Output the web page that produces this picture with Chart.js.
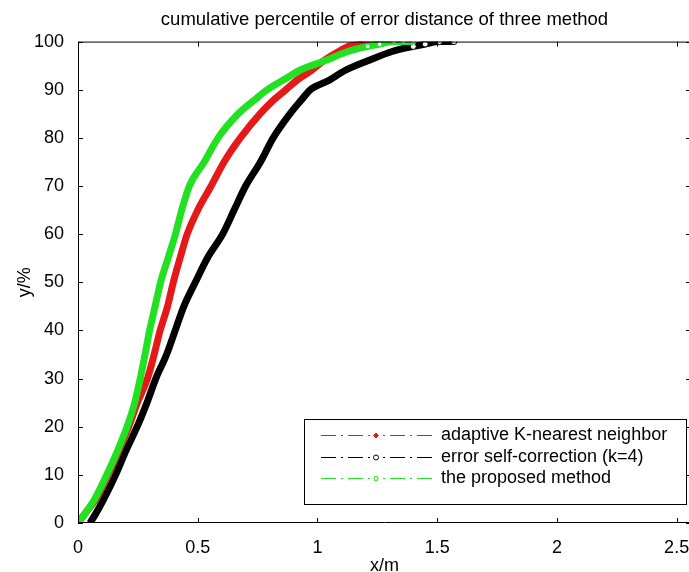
<!DOCTYPE html>
<html>
<head>
<meta charset="utf-8">
<title>cumulative percentile of error distance of three method</title>
<script src="https://cdn.jsdelivr.net/npm/chart.js@4.4.0/dist/chart.umd.min.js"></script>
<style>
  html, body { margin: 0; padding: 0; background: #fff; overflow: hidden; }
  #wrap { width: 692px; height: 572px; }
</style>
</head>
<body>
<div id="wrap"><canvas id="cdf" width="692" height="572"></canvas></div>
<script>
// series: cumulative percentile (y, %) against error distance (x, m)
const seriesNames = ['adaptive K-nearest neighbor', 'error self-correction (k=4)', 'the proposed method'];

const knnPercent = [0, 2, 5, 10, 15, 20, 25, 30, 35, 40, 45, 50, 55, 60, 65, 70, 75, 80, 85, 88, 90, 92, 94, 96, 98, 99, 99.5, 100, 100];
const knnError   = [0, 0.03, 0.075, 0.125, 0.17, 0.212, 0.248, 0.29, 0.318, 0.343, 0.374, 0.398, 0.426, 0.456, 0.5, 0.556, 0.61, 0.678, 0.76, 0.82, 0.868, 0.915, 0.975, 1.025, 1.09, 1.13, 1.18, 1.25, 1.33];

const selfCorrPercent = [0, 2, 5, 10, 15, 20, 25, 30, 35, 40, 45, 50, 55, 60, 65, 70, 75, 80, 85, 88, 90, 92, 94, 96, 98, 99, 99.5, 100, 100];
const selfCorrError   = [0.05, 0.075, 0.108, 0.157, 0.2, 0.247, 0.288, 0.325, 0.37, 0.406, 0.442, 0.49, 0.54, 0.604, 0.652, 0.7, 0.762, 0.815, 0.885, 0.935, 0.97, 1.05, 1.115, 1.21, 1.315, 1.4, 1.45, 1.51, 1.57];

const proposedPercent = [0, 2, 5, 10, 15, 20, 25, 30, 35, 40, 45, 50, 55, 60, 65, 70, 75, 80, 85, 88, 90, 92, 94, 96, 98, 99, 99.5, 100, 100, 100];
const proposedError   = [0, 0.03, 0.07, 0.12, 0.165, 0.205, 0.237, 0.26, 0.28, 0.299, 0.322, 0.345, 0.376, 0.407, 0.433, 0.465, 0.527, 0.585, 0.669, 0.74, 0.79, 0.857, 0.925, 1.03, 1.13, 1.21, 1.26, 1.32, 1.36, 1.4];

const RED = '#e61919';
const BLACK = '#000000';
const GREEN = '#22e022';
const FONT = "'Liberation Sans', Arial, Helvetica, sans-serif";

function toPoints(xs, ys) {
  return xs.map((x, i) => ({ x: x, y: ys[i] }));
}

// markers only show where the points thin out near 100%
const tailRadius = (r) => (c) => (c.raw && c.raw.y >= 99 ? r : 0);

// box round the axes with inward ticks on all four sides
const matlabAxes = {
  id: 'matlabAxes',
  afterDatasetsDraw(chart) {
    const { ctx, chartArea: a, scales: { x, y } } = chart;
    const len = 5;
    ctx.save();
    ctx.strokeStyle = '#000';
    ctx.lineWidth = 1;
    ctx.beginPath();
    ctx.rect(a.left + 0.5, a.top + 0.5, a.right - a.left - 1, a.bottom - a.top - 1);
    x.ticks.forEach(t => {
      const px = Math.round(x.getPixelForValue(t.value)) + 0.5;
      ctx.moveTo(px, a.bottom); ctx.lineTo(px, a.bottom - len);
      ctx.moveTo(px, a.top); ctx.lineTo(px, a.top + len);
    });
    y.ticks.forEach(t => {
      const py = Math.round(y.getPixelForValue(t.value)) + 0.5;
      ctx.moveTo(a.left, py); ctx.lineTo(a.left + len, py);
      ctx.moveTo(a.right, py); ctx.lineTo(a.right - len, py);
    });
    ctx.stroke();
    ctx.restore();
  }
};

// legend box in the lower right corner, line samples drawn dash-dot
const matlabLegend = {
  id: 'matlabLegend',
  afterDraw(chart) {
    const { ctx, chartArea: a } = chart;
    const w = 383, h = 86;
    const bx = a.right - 4 - w;
    const by = a.bottom - 18 - h;
    ctx.save();
    ctx.fillStyle = '#fff';
    ctx.fillRect(bx, by, w, h);
    ctx.strokeStyle = '#000';
    ctx.lineWidth = 1;
    ctx.strokeRect(bx + 0.5, by + 0.5, w - 1, h - 1);

    ctx.font = '18px ' + FONT;
    ctx.textBaseline = 'middle';
    chart.data.datasets.forEach((ds, i) => {
      const ly = Math.round(by + 16 + i * 21.7) + 0.5;
      const x0 = bx + 17, x1 = bx + 128, xm = bx + 72;
      ctx.strokeStyle = ds.borderColor;
      ctx.lineWidth = 1;
      ctx.setLineDash([15, 5, 2, 5]);
      ctx.beginPath();
      ctx.moveTo(x0, ly); ctx.lineTo(xm - 4, ly);
      ctx.moveTo(x1, ly); ctx.lineTo(xm + 4, ly);
      ctx.stroke();
      ctx.setLineDash([]);
      ctx.fillStyle = ds.pointBackgroundColor;
      ctx.strokeStyle = ds.pointBorderColor;
      Chart.helpers.drawPoint(ctx, { pointStyle: ds.pointStyle, radius: 2.5, borderWidth: 1, rotation: 0 }, xm, ly);
      ctx.fillStyle = '#000';
      ctx.fillText(ds.label, bx + 137, ly);
    });
    ctx.restore();
  }
};

const ctx = document.getElementById('cdf').getContext('2d');
new Chart(ctx, {
  type: 'scatter',
  data: {
    datasets: [
      {
        label: seriesNames[0],
        data: toPoints(knnError, knnPercent),
        showLine: true,
        cubicInterpolationMode: 'monotone',
        borderColor: RED,
        borderWidth: 7,
        pointStyle: 'rectRot',
        pointBackgroundColor: RED,
        pointBorderColor: RED,
        pointBorderWidth: 1,
        pointRadius: tailRadius(3.5),
        order: 1,
      },
      {
        label: seriesNames[1],
        data: toPoints(selfCorrError, selfCorrPercent),
        showLine: true,
        cubicInterpolationMode: 'monotone',
        borderColor: BLACK,
        borderWidth: 7,
        pointStyle: 'circle',
        pointBackgroundColor: '#ffffff',
        pointBorderColor: BLACK,
        pointBorderWidth: 1,
        pointRadius: tailRadius(3),
        order: 2,
      },
      {
        label: seriesNames[2],
        data: toPoints(proposedError, proposedPercent),
        showLine: true,
        cubicInterpolationMode: 'monotone',
        borderColor: GREEN,
        borderWidth: 7,
        pointStyle: 'rect',
        pointBackgroundColor: '#ffffff',
        pointBorderColor: GREEN,
        pointBorderWidth: 1,
        pointRadius: tailRadius(3),
        order: 0,
      },
    ],
  },
  options: {
    responsive: false,
    animation: false,
    layout: { autoPadding: false, padding: { left: 0, right: 1, top: 0, bottom: 0 } },
    scales: {
      x: {
        type: 'linear',
        min: 0,
        max: 2.56,
        grid: { display: false },
        border: { display: false },
        ticks: {
          stepSize: 0.5,
          includeBounds: false,
          padding: 6,
          color: '#000',
          font: { family: FONT, size: 18 },
          callback: (v) => String(v),
        },
        title: {
          display: true,
          text: 'x/m',
          color: '#000',
          font: { family: FONT, size: 18, lineHeight: 1 },
          padding: { top: 0, bottom: -3 },
        },
        afterFit: (s) => { s.height = 49; s.paddingLeft = 0; s.paddingRight = 0; },
      },
      y: {
        type: 'linear',
        min: 0,
        max: 100,
        grid: { display: false },
        border: { display: false },
        ticks: {
          stepSize: 10,
          padding: 6,
          color: '#000',
          font: { family: FONT, size: 18 },
        },
        title: {
          display: true,
          text: 'y/%',
          color: '#000',
          font: { family: FONT, size: 18, lineHeight: 1 },
          padding: { top: 16, bottom: 0 },
        },
        afterFit: (s) => { s.width = 78; },
      },
    },
    plugins: {
      legend: { display: false },
      tooltip: { enabled: false },
      title: {
        display: true,
        text: 'cumulative percentile of error distance of three method',
        color: '#000',
        fullSize: false,
        font: { family: FONT, size: 18.5, weight: 'normal', lineHeight: 1.2 },
        padding: { top: 9, bottom: 10.4 },
      },
    },
  },
  plugins: [matlabAxes, matlabLegend],
});
</script>
</body>
</html>
